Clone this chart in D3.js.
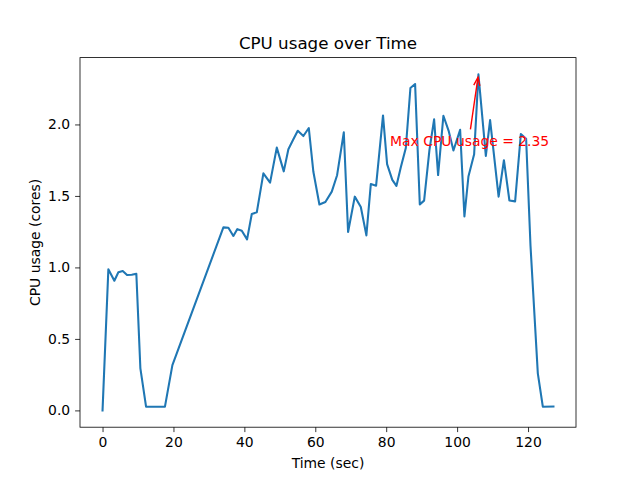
<!DOCTYPE html>
<html>
<head>
<meta charset="utf-8">
<script src="https://cdn.jsdelivr.net/npm/d3@7"></script>
<style>
  html, body { margin: 0; padding: 0; background: #fff; }
  svg { display: block; font-family: "DejaVu Sans", sans-serif; }
</style>
</head>
<body>
<svg id="chart" width="640" height="480"></svg>
<script>
// ---- data ----
const times = [0, 1.64, 3.33, 4.46, 5.70, 6.91, 8.24, 9.53, 10.67, 12.27, 17.6, 19.7,
  34.08, 35.49, 36.90, 38.02, 39.27, 40.76, 42.09, 43.50, 45.36, 47.25, 49.14, 51.11,
  52.41, 53.82, 55.06, 56.64, 58.17, 59.46, 61.16, 62.85, 64.65, 66.15, 68.04, 69.25,
  71.14, 72.84, 74.41, 75.66, 77.15, 79.10, 80.25, 81.72, 82.88, 84.12, 85.53, 86.83,
  88.15, 89.48, 90.69, 92.19, 93.51, 94.64, 96.13, 97.66, 98.96, 100.85, 102.06, 103.19,
  104.80, 106.01, 108.10, 109.3, 111.7, 113.2, 114.75, 116.36, 117.97, 119.46, 120.7,
  122.76, 124.17, 127.17];
const cpu = [0.0, 0.987, 0.907, 0.966, 0.975, 0.947, 0.949, 0.956, 0.294, 0.026, 0.026, 0.317,
  1.280, 1.278, 1.220, 1.268, 1.256, 1.196, 1.374, 1.385, 1.658, 1.593, 1.838, 1.672,
  1.826, 1.896, 1.956, 1.919, 1.975, 1.669, 1.440, 1.458, 1.530, 1.645, 1.945, 1.248,
  1.495, 1.423, 1.224, 1.583, 1.572, 2.063, 1.722, 1.612, 1.570, 1.700, 1.835, 2.255,
  2.283, 1.441, 1.467, 1.821, 2.036, 1.646, 2.061, 1.951, 1.818, 1.963, 1.356, 1.636,
  1.792, 2.35, 1.780, 2.03, 1.495, 1.75, 1.468, 1.462, 1.933, 1.90, 1.15,
  0.259, 0.026, 0.027];
const xTicks = [0, 20, 40, 60, 80, 100, 120];
const yTicks = [0.0, 0.5, 1.0, 1.5, 2.0];
const titleText = "CPU usage over Time";
const xLabel = "Time (sec)";
const yLabel = "CPU usage (cores)";
const annotationTail = [103.75, 1.966];
const annotationText = [81.1, 1.85];

// ---- layout ----
const mLeft = 80, mRight = 576, mTop = 57.6, mBottom = 427.2;
const svg = d3.select("#chart");
const data = times.map((t, i) => ({ t, v: cpu[i] }));

const xExt = d3.extent(times), yExt = d3.extent(cpu);
const xPad = (xExt[1] - xExt[0]) * 0.05, yPad = (yExt[1] - yExt[0]) * 0.05;
const x = d3.scaleLinear().domain([xExt[0] - xPad, xExt[1] + xPad]).range([mLeft, mRight]);
const y = d3.scaleLinear().domain([yExt[0] - yPad, yExt[1] + yPad]).range([mBottom, mTop]);

const tickFont = 13.9;

const xAxis = d3.axisBottom(x).tickValues(xTicks).tickFormat(d3.format("d")).tickSize(4.9).tickPadding(4.9);
const yAxis = d3.axisLeft(y).tickValues(yTicks).tickFormat(d3.format(".1f")).tickSize(4.9).tickPadding(4.9);

const gx = svg.append("g").attr("transform", `translate(0,${mBottom})`).call(xAxis);
const gy = svg.append("g").attr("transform", `translate(${mLeft},0)`).call(yAxis);
[gx, gy].forEach(g => {
  g.select(".domain").remove();
  g.selectAll(".tick line").attr("stroke", "#000").attr("stroke-width", 0.8);
  g.selectAll(".tick text").attr("fill", "#000").style("font-size", tickFont + "px")
    .style("font-family", "DejaVu Sans, sans-serif");
});

svg.append("clipPath").attr("id", "clip").append("rect")
  .attr("x", mLeft).attr("y", mTop).attr("width", mRight - mLeft).attr("height", mBottom - mTop);

const line = d3.line().x(d => x(d.t)).y(d => y(d.v));
svg.append("path").datum(data)
  .attr("clip-path", "url(#clip)")
  .attr("fill", "none").attr("stroke", "#1f77b4").attr("stroke-width", 2.08)
  .attr("stroke-linejoin", "round").attr("stroke-linecap", "square")
  .attr("d", line);

// annotation
const maxIdx = d3.maxIndex(cpu);
const maxT = times[maxIdx], maxV = cpu[maxIdx];
const tx = x(annotationTail[0]), ty = y(annotationTail[1]);
const hx = x(maxT), hy = y(maxV);
const ang = Math.atan2(hy - ty, hx - tx);
const len = Math.hypot(hx - tx, hy - ty) - 2.8;
const ex = tx + Math.cos(ang) * len, ey = ty + Math.sin(ang) * len;
const ah = 9, aw = 0.35;
const ann = svg.append("g").attr("stroke", "red").attr("stroke-width", 1.4).attr("fill", "none");
ann.append("line").attr("x1", tx).attr("y1", ty).attr("x2", ex).attr("y2", ey);
ann.append("path").attr("d",
  `M${ex - ah * Math.cos(ang - aw)},${ey - ah * Math.sin(ang - aw)} L${ex},${ey} L${ex - ah * Math.cos(ang + aw)},${ey - ah * Math.sin(ang + aw)}`);

svg.append("text")
  .attr("x", x(annotationText[0])).attr("y", y(annotationText[1]))
  .attr("fill", "red").style("font-size", "13.9px")
  .text("Max CPU usage = " + maxV.toFixed(2));

svg.append("rect").attr("x", mLeft).attr("y", mTop).attr("width", mRight - mLeft).attr("height", mBottom - mTop)
  .attr("fill", "none").attr("stroke", "#000").attr("stroke-width", 0.8);

svg.append("text").attr("x", (mLeft + mRight) / 2).attr("y", mTop - 8.3)
  .attr("text-anchor", "middle").style("font-size", "16.7px").attr("fill", "#000").text(titleText);
svg.append("text").attr("x", (mLeft + mRight) / 2).attr("y", 468)
  .attr("text-anchor", "middle").style("font-size", "13.9px").attr("fill", "#000").text(xLabel);
svg.append("text").attr("transform", `translate(40,${(mTop + mBottom) / 2}) rotate(-90)`)
  .attr("text-anchor", "middle").style("font-size", "13.9px").attr("fill", "#000").text(yLabel);
</script>
</body>
</html>
